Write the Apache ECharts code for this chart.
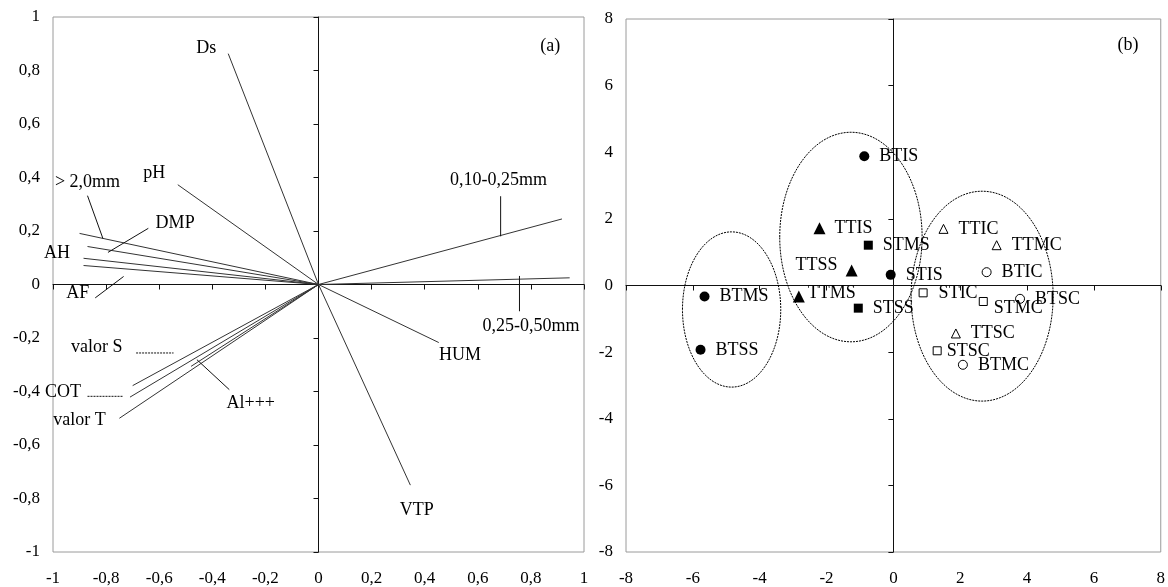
<!DOCTYPE html>
<html>
<head>
<meta charset="utf-8">
<script src="https://cdn.jsdelivr.net/npm/echarts@6/dist/echarts.min.js"></script>
<style>
html,body{margin:0;padding:0;background:#fff;}
#chart{width:1168px;height:587px;}
</style>
</head>
<body>
<div id="chart"></div>
<script>
// ---------- Panel (a): variable loadings ----------
const varNames = ['Ds','pH','> 2,0mm','DMP','AH','AF','valor S','COT','valor T','Al+++','0,10-0,25mm','0,25-0,50mm','HUM','VTP'];
const varX = [-0.34,-0.53,-0.90,-0.87,-0.885,-0.885,-0.70,-0.71,-0.75,-0.48,0.917,0.946,0.453,0.346];
const varY = [0.863,0.373,0.191,0.142,0.098,0.071,-0.378,-0.421,-0.50,-0.306,0.245,0.025,-0.217,-0.75];
// label anchor positions (data units)
const varLabelX = [-0.423,-0.619,-0.87,-0.54,-0.985,-0.907,-0.835,-0.962,-0.90,-0.255,0.678,0.80,0.533,0.37];
const varLabelY = [0.884,0.414,0.382,0.23,0.118,-0.032,-0.234,-0.403,-0.508,-0.443,0.39,-0.158,-0.266,-0.845];
// leader lines (data units)
const leadX1 = [-0.870,-0.641,-0.841,-0.687,-0.870,-0.458,0.686,0.757];
const leadY1 = [0.332,0.21,-0.05,-0.256,-0.418,-0.281,0.33,0.032];
const leadX2 = [-0.812,-0.793,-0.734,-0.546,-0.737,-0.336,0.686,0.757];
const leadY2 = [0.172,0.12,0.03,-0.256,-0.418,-0.393,0.18,-0.10];
const leadDashed = [0,0,0,1,1,0,0,0];
const ticksA = {min:-1, max:1, interval:0.2};

// ---------- Panel (b): sample scores ----------
const ptNames = ['BTIS','STIS','BTMS','BTSS','TTIS','TTSS','TTMS','STMS','STSS','TTIC','TTMC','TTSC','BTIC','BTSC','BTMC','STIC','STMC','STSC'];
const ptX = [-0.87,-0.08,-5.65,-5.77,-2.21,-1.25,-2.83,-0.75,-1.05,1.50,3.09,1.87,2.79,3.79,2.08,0.89,2.69,1.31];
const ptY = [3.88,0.32,-0.33,-1.93,1.72,0.45,-0.33,1.21,-0.68,1.70,1.21,-1.44,0.40,-0.40,-2.38,-0.22,-0.48,-1.96];
const ptGroup = ['fc','fc','fc','fc','ft','ft','ft','fs','fs','ot','ot','ot','oc','oc','oc','os','os','os'];
// group ellipses
const ellCx = [-4.84,-1.27,2.655];
const ellCy = [-0.72,1.455,-0.32];
const ellRx = [1.47,2.13,2.125];
const ellRy = [2.33,3.145,3.15];
const ticksB = {min:-8, max:8, interval:2};

const FONT = 'Liberation Serif';
const FS = 17;   // tick labels
const FL = 18;   // annotation labels

function fmt(v){ return String(Math.round(v*10)/10).replace('.', ','); }

function labelAxis(type, gi, t, margin){
  return {
    type:'value', gridIndex:gi, min:t.min, max:t.max, interval:t.interval,
    axisLine:{show:false,onZero:false}, axisTick:{show:false}, splitLine:{show:false},
    axisLabel:{formatter:fmt, color:'#000', fontFamily:FONT, fontSize:FS, margin:margin,
               showMinLabel:true, showMaxLabel:true}
  };
}
function zeroAxis(gi, t, pos){
  return {
    type:'value', gridIndex:gi, min:t.min, max:t.max, interval:t.interval, position:pos,
    axisLine:{show:true,onZero:true,lineStyle:{color:'#111',width:1}},
    axisTick:{show:true,inside:false,length:5,lineStyle:{color:'#111',width:1}},
    axisLabel:{show:false}, splitLine:{show:false}
  };
}

const groupStyle = {
  fc:{symbol:'circle',size:10,fill:'#000',dist:10},
  ft:{symbol:'triangle',size:12,fill:'#000',dist:9},
  fs:{symbol:'rect',size:9,fill:'#000',dist:10},
  ot:{symbol:'triangle',size:9,fill:'#fff',dist:10},
  oc:{symbol:'circle',size:9,fill:'#fff',dist:10},
  os:{symbol:'rect',size:8,fill:'#fff',dist:11}
};
const labelOverride = {
  TTSS:{position:'left',distance:8,offset:[0,-5]},
  TTMS:{distance:3,offset:[0,-3]},
  STSC:{distance:5},
  STMC:{distance:6,offset:[0,7]}
};

const series = [];
// loading vectors
series.push({
  type:'custom', xAxisIndex:0, yAxisIndex:0, silent:true,
  data: varX.map((x,i)=>[x,varY[i]]),
  renderItem:function(params, api){
    const o = api.coord([0,0]);
    const p = api.coord([api.value(0), api.value(1)]);
    return {type:'line', shape:{x1:o[0],y1:o[1],x2:p[0],y2:p[1]}, style:{stroke:'#333',lineWidth:1}};
  }
});
// leader lines
series.push({
  type:'custom', xAxisIndex:0, yAxisIndex:0, silent:true,
  data: leadX1.map((x,i)=>[x,leadY1[i],leadX2[i],leadY2[i],leadDashed[i]]),
  renderItem:function(params, api){
    const a = api.coord([api.value(0), api.value(1)]);
    const b = api.coord([api.value(2), api.value(3)]);
    return {type:'line', shape:{x1:a[0],y1:a[1],x2:b[0],y2:b[1]},
      style:{stroke:'#111',lineWidth:1,lineDash: api.value(4) ? [2,1] : null}};
  }
});
// variable labels
series.push({
  type:'custom', xAxisIndex:0, yAxisIndex:0, silent:true,
  data: varLabelX.map((x,i)=>[x,varLabelY[i],i]),
  renderItem:function(params, api){
    const p = api.coord([api.value(0), api.value(1)]);
    return {type:'text', x:p[0], y:p[1], style:{text:varNames[api.value(2)], fill:'#000',
      font: FL+'px "'+FONT+'"', align:'center', verticalAlign:'middle'}};
  }
});
// panel tags
series.push({
  type:'custom', xAxisIndex:0, yAxisIndex:0, silent:true, data:[[0.873,0.892]],
  renderItem:function(params, api){
    const p = api.coord([api.value(0), api.value(1)]);
    return {type:'text', x:p[0], y:p[1], style:{text:'(a)', fill:'#000', font: FL+'px "'+FONT+'"', align:'center', verticalAlign:'middle'}};
  }
});
series.push({
  type:'custom', xAxisIndex:2, yAxisIndex:2, silent:true, data:[[7.02,7.22]],
  renderItem:function(params, api){
    const p = api.coord([api.value(0), api.value(1)]);
    return {type:'text', x:p[0], y:p[1], style:{text:'(b)', fill:'#000', font: FL+'px "'+FONT+'"', align:'center', verticalAlign:'middle'}};
  }
});
// ellipses
series.push({
  type:'custom', xAxisIndex:2, yAxisIndex:2, silent:true,
  data: ellCx.map((x,i)=>[x,ellCy[i],ellRx[i],ellRy[i]]),
  renderItem:function(params, api){
    const c = api.coord([api.value(0), api.value(1)]);
    const s = api.size([api.value(2), api.value(3)]);
    return {type:'ellipse', shape:{cx:c[0],cy:c[1],rx:s[0],ry:s[1]},
      style:{fill:null,stroke:'#000',lineWidth:1,lineDash:[2,1]}};
  }
});
// points by group
Object.keys(groupStyle).forEach(function(g){
  const st = groupStyle[g];
  const data = [];
  ptNames.forEach(function(n,i){
    if (ptGroup[i] !== g) return;
    const item = {name:n, value:[ptX[i],ptY[i]]};
    if (labelOverride[n]) item.label = labelOverride[n];
    data.push(item);
  });
  series.push({
    type:'scatter', xAxisIndex:2, yAxisIndex:2, silent:true,
    symbol:st.symbol, symbolSize:st.size,
    itemStyle:{color:st.fill, borderColor:'#000', borderWidth: st.fill==='#fff'?1:0, opacity:1},
    label:{show:true, position:'right', distance:st.dist, formatter:'{b}', color:'#000',
           fontFamily:FONT, fontSize:FL},
    data:data, z:5
  });
});

const chart = echarts.init(document.getElementById('chart'), null, {renderer:'canvas'});
chart.setOption({
  backgroundColor:'#fff',
  animation:false,
  grid:[
    {left:53, top:17, width:531, height:536, show:true, borderColor:'#9a9a9a', borderWidth:1},
    {left:626, top:19, width:537, height:534, show:true, borderColor:'#9a9a9a', borderWidth:1}
  ],
  xAxis:[
    labelAxis('x',0,ticksA,18),
    zeroAxis(0,ticksA,'bottom'),
    labelAxis('x',1,ticksB,18),
    zeroAxis(1,ticksB,'bottom')
  ],
  yAxis:[
    labelAxis('y',0,ticksA,13),
    zeroAxis(0,ticksA,'left'),
    labelAxis('y',1,ticksB,13),
    zeroAxis(1,ticksB,'left')
  ],
  series:series
});
</script>
</body>
</html>
